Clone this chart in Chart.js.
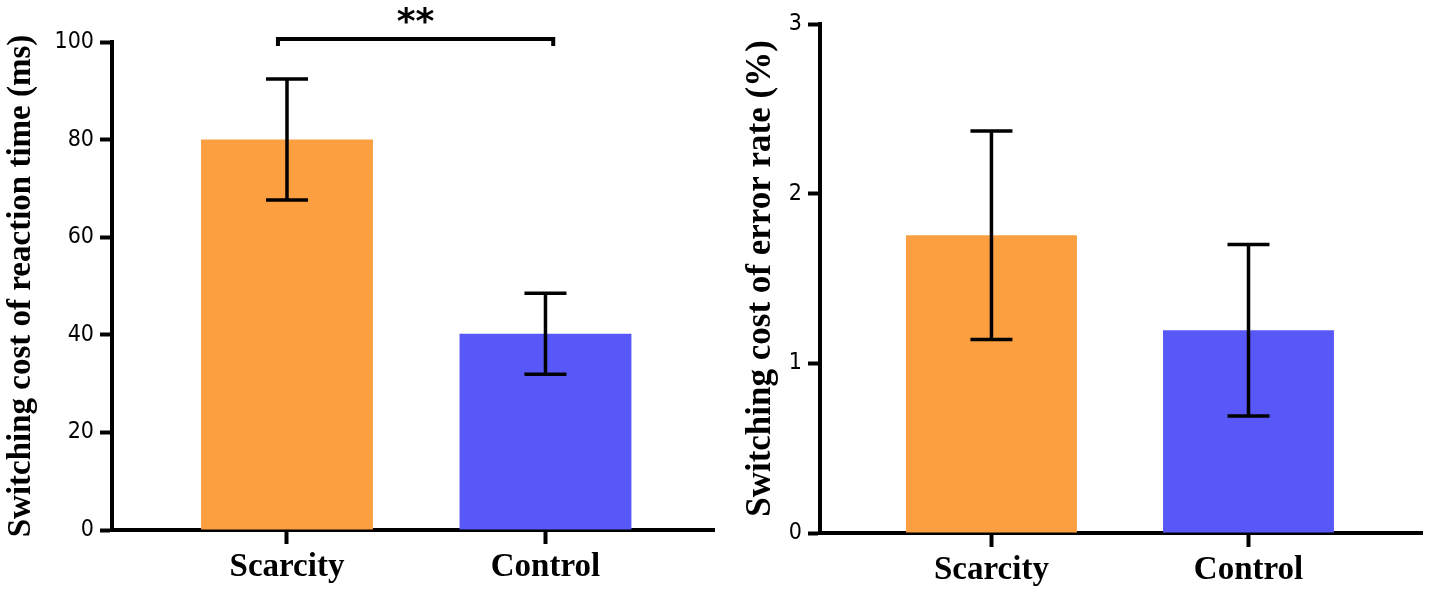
<!DOCTYPE html>
<html>
<head>
<meta charset="utf-8">
<script src="https://cdn.jsdelivr.net/npm/chart.js@4.4.0/dist/chart.umd.min.js"></script>
<style>
  html, body { margin: 0; padding: 0; background: #fff; }
  .wrap { display: flex; width: 1430px; height: 599px; }
  canvas { display: block; }
</style>
</head>
<body>
<div class="wrap">
  <canvas id="rtChart" width="715" height="599"></canvas>
  <canvas id="errChart" width="715" height="599"></canvas>
</div>
<script>
// data
const groups = ['Scarcity', 'Control'];
const barColors = ['#FB9F41', '#5858F8'];

const rtMeans = [80.0, 40.2];
const rtSem = [12.4, 8.3];
const rtTicks = [0, 20, 40, 60, 80, 100];

const errMeans = [1.755, 1.195];
const errSem = [0.615, 0.505];
const errTicks = [0, 1, 2, 3];

// significance mark between the two groups (left panel)
const sigPair = [0, 1];
const sigLabel = '**';

const tickFont = { family: '"Liberation Sans Narrow", "DejaVu Sans Condensed", "Roboto Condensed", "Noto Sans", sans-serif', size: 23 };
const catFont = { family: '"Liberation Serif", "DejaVu Serif", serif', size: 33, weight: 'bold' };

const errorBars = {
  id: 'errorBars',
  afterDatasetsDraw(chart, args, opts) {
    const ctx = chart.ctx, x = chart.scales.x, y = chart.scales.y;
    ctx.save();
    ctx.strokeStyle = '#000';
    ctx.lineWidth = 3.5;
    opts.means.forEach((m, i) => {
      const px = x.getPixelForValue(i);
      const hi = y.getPixelForValue(m + opts.sem[i]);
      const lo = y.getPixelForValue(m - opts.sem[i]);
      ctx.beginPath();
      ctx.moveTo(px, hi); ctx.lineTo(px, lo);
      ctx.moveTo(px - 21, hi); ctx.lineTo(px + 21, hi);
      ctx.moveTo(px - 21, lo); ctx.lineTo(px + 21, lo);
      ctx.stroke();
    });
    ctx.restore();
  }
};

const sigBracket = {
  id: 'sigBracket',
  afterDraw(chart, args, opts) {
    if (!opts.show) return;
    const ctx = chart.ctx, x = chart.scales.x, y = chart.scales.y;
    const x1 = x.getPixelForValue(sigPair[0] - 0.035);
    const x2 = x.getPixelForValue(sigPair[1] + 0.03);
    const yTop = y.getPixelForValue(100.6);
    ctx.save();
    ctx.strokeStyle = '#000';
    ctx.lineWidth = 4;
    ctx.beginPath();
    ctx.moveTo(x1, yTop + 7); ctx.lineTo(x1, yTop); ctx.lineTo(x2, yTop); ctx.lineTo(x2, yTop + 7);
    ctx.stroke();
    ctx.fillStyle = '#000';
    ctx.font = 'bold 36px "DejaVu Sans", sans-serif';
    ctx.textAlign = 'center';
    ctx.textBaseline = 'alphabetic';
    ctx.fillText(sigLabel, (x1 + x2) / 2, yTop - 6);
    ctx.restore();
  }
};

function makeChart(id, cfg) {
  const data = cfg.means.map((v, i) => ({ x: i, y: v }));
  return new Chart(document.getElementById(id), {
    type: 'bar',
    data: {
      datasets: [{
        data: data,
        backgroundColor: barColors,
        borderWidth: 0,
        categoryPercentage: 1,
        barPercentage: 0.665
      }]
    },
    options: {
      responsive: false,
      animation: false,
      layout: { padding: cfg.padding },
      plugins: {
        legend: { display: false },
        tooltip: { enabled: false },
        errorBars: { means: cfg.means, sem: cfg.sem },
        sigBracket: { show: cfg.sig }
      },
      scales: {
        x: {
          type: 'linear',
          offset: false,
          bounds: 'data',
          min: cfg.xMin,
          max: cfg.xMax,
          afterBuildTicks: s => { s.ticks = groups.map((g, i) => ({ value: i })); },
          afterFit: s => { s.height = cfg.xHeight; },
          ticks: {
            autoSkip: false,
            maxRotation: 0,
            padding: 4,
            color: '#000',
            font: catFont,
            callback: (v, i) => groups[i]
          },
          grid: { offset: false, drawOnChartArea: false, tickLength: 14, tickWidth: 4, tickColor: '#000' },
          border: { color: '#000', width: 4 }
        },
        y: {
          min: cfg.yTicks[0],
          max: cfg.yTicks[cfg.yTicks.length - 1],
          afterBuildTicks: s => { s.ticks = cfg.yTicks.map(v => ({ value: v })); },
          afterFit: s => { s.width = cfg.yWidth; },
          ticks: { color: '#000', font: tickFont, padding: 6 },
          grid: { drawOnChartArea: false, tickLength: 12, tickWidth: 4, tickColor: '#000' },
          border: { color: '#000', width: 4 },
          title: {
            display: true,
            text: cfg.title,
            color: '#000',
            font: { family: '"Liberation Serif", "DejaVu Serif", serif', size: cfg.titleSize, weight: 'bold' },
            padding: { top: cfg.titlePad, bottom: 0 }
          }
        }
      }
    },
    plugins: [errorBars, sigBracket]
  });
}

makeChart('rtChart', {
  means: rtMeans, sem: rtSem, yTicks: rtTicks, sig: true,
  title: 'Switching cost of reaction time (ms)',
  xMin: -0.677, xMax: 1.652,
  padding: { top: 42, left: 0, right: 1, bottom: 0 },
  xHeight: 69, yWidth: 112, titlePad: 2, titleSize: 33
});

makeChart('errChart', {
  means: errMeans, sem: errSem, yTicks: errTicks, sig: false,
  title: 'Switching cost of error rate (%)',
  xMin: -0.667, xMax: 1.675,
  padding: { top: 24, left: 0, right: 8, bottom: 0 },
  xHeight: 66, yWidth: 105, titlePad: 25, titleSize: 35
});
</script>
</body>
</html>
